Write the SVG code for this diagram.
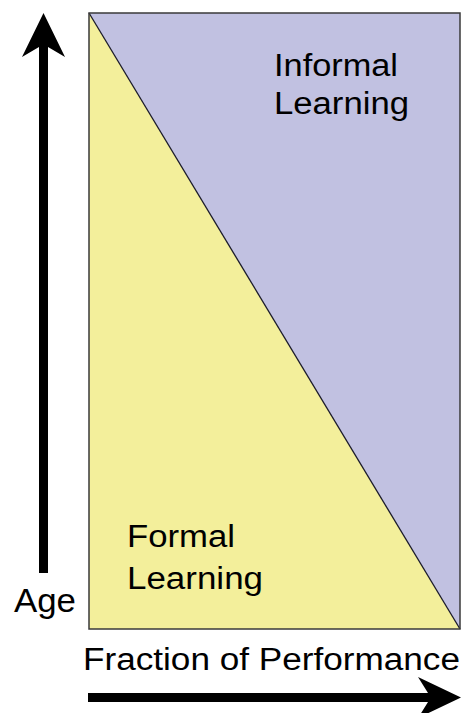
<svg xmlns="http://www.w3.org/2000/svg" width="465" height="713" viewBox="0 0 465 713">
<style>
.t{font-family:"Liberation Sans",Arial,sans-serif;font-size:31px;fill:#000}
.arrow{fill:#000}
</style>
<rect width="465" height="713" fill="#fff"/>
<g id="chart">
<polygon points="89,13 460,13 460,629" fill="#C1C1E1"/>
<polygon points="89,13 460,629 89,629" fill="#F3EF9B"/>
<line x1="89" y1="13" x2="460" y2="629" stroke="#1a1a2a" stroke-width="1.3"/>
<rect x="89" y="13" width="371" height="616" fill="none" stroke="#3a3a3a" stroke-width="1.5"/>
</g>
<g id="informal">
<text class="t" x="274" y="76" textLength="124" lengthAdjust="spacingAndGlyphs">Informal</text>
<text class="t" x="274" y="114" textLength="135" lengthAdjust="spacingAndGlyphs">Learning</text>
</g>
<g id="formal">
<text class="t" x="127" y="547" textLength="108" lengthAdjust="spacingAndGlyphs">Formal</text>
<text class="t" x="127" y="589" textLength="136" lengthAdjust="spacingAndGlyphs">Learning</text>
</g>
<g id="age">
<text class="t" x="14" y="612" textLength="62" lengthAdjust="spacingAndGlyphs" style="font-size:33px">Age</text>
</g>
<g id="fraction">
<text class="t" x="83" y="670" textLength="377" lengthAdjust="spacingAndGlyphs">Fraction of Performance</text>
</g>
<g id="connectors">
<path class="arrow" d="M39,573 L39,47 L22,57 L43.5,13 L65,57 L48,47 L48,573 Z"/>
<path class="arrow" d="M88,693 L428,693 L418,677 L461,697.5 L418,718 L428,702 L88,702 Z"/>
</g>
</svg>
